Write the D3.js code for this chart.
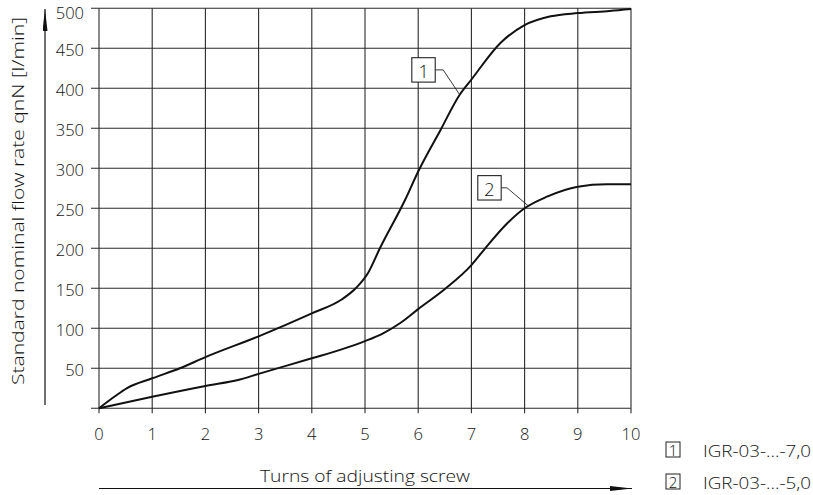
<!DOCTYPE html>
<html>
<head>
<meta charset="utf-8">
<script src="https://cdn.jsdelivr.net/npm/d3@7"></script>
<style>
  body { margin: 0; background: #fff; }
  svg text { font-family: "Open Sans", "Noto Sans", sans-serif; font-weight: 300; fill: #111; }
</style>
</head>
<body>
<script>
const turns1 = [0, 0.3, 0.52, 1, 1.52, 2, 3, 4, 4.56, 4.84, 5.06, 5.28, 5.75, 6, 6.42, 6.78, 7, 7.55, 8, 8.49, 9, 9.6, 10];
const flow1 = [0, 15, 25, 37.5, 50, 64, 90, 118.75, 136, 151, 169.5, 200, 260, 296, 348, 392, 411, 457, 479, 490, 494, 496.6, 499];
const turns2 = [0, 1, 2, 2.65, 3, 4, 4.56, 5, 5.34, 5.67, 6, 6.52, 7, 7.26, 7.67, 8, 8.42, 9, 9.54, 10];
const flow2 = [0, 14.5, 28, 36, 43, 62.5, 73.7, 84, 93.7, 107, 124, 150, 179, 200, 231, 250, 264.5, 277, 280, 280];
const xTicks = [0, 1, 2, 3, 4, 5, 6, 7, 8, 9, 10];
const yTicks = [50, 100, 150, 200, 250, 300, 350, 400, 450, 500];
const seriesIds = ["1", "2"];
const seriesNames = ["IGR-03-…-7,0", "IGR-03-…-5,0"];
// callout boxes: box centre, elbow x, point on curve
const callouts = [
    {id: "1", bx: 6.1, by: 423, kx: 6.47, tx: 6.78, ty: 392},
    {id: "2", bx: 7.34, by: 275.6, kx: 7.67, tx: 8.07, ty: 253}
];
const xTitle = "Turns of adjusting screw";
const yTitle = "Standard nominal flow rate qnN [l/min]";

const W = 813, H = 495;
const svg = d3.select("body").append("svg").attr("width", W).attr("height", H);

const x = d3.scaleLinear().domain([0, 10]).range([99, 631]);
const y = d3.scaleLinear().domain([0, 500]).range([408.3, 8.3]);

const defs = svg.append("defs");
defs.append("marker").attr("id", "arrowUp")
    .attr("viewBox", "0 0 5 22").attr("refX", 2.5).attr("refY", 0)
    .attr("markerWidth", 5).attr("markerHeight", 22).attr("markerUnits", "userSpaceOnUse")
    .attr("orient", "0")
    .append("path").attr("d", "M0,22 L2.5,0 L5,22 Z").attr("fill", "#111");
defs.append("marker").attr("id", "arrowRight")
    .attr("viewBox", "0 0 22 5").attr("refX", 22).attr("refY", 2.5)
    .attr("markerWidth", 22).attr("markerHeight", 5).attr("markerUnits", "userSpaceOnUse")
    .attr("orient", "0")
    .append("path").attr("d", "M0,0 L22,2.5 L0,5 Z").attr("fill", "#111");

const grid = svg.append("g").attr("id", "grid").attr("stroke", "#2a2a2a").attr("stroke-width", 1.1);
grid.selectAll(".vline").data(xTicks).join("line").classed("vline", true)
    .attr("x1", d => x(d)).attr("x2", d => x(d))
    .attr("y1", y(500)).attr("y2", y(0) + 5);
grid.selectAll(".hline").data([0].concat(yTicks)).join("line").classed("hline", true)
    .attr("x1", x(0) - 8).attr("x2", x(10))
    .attr("y1", d => y(d)).attr("y2", d => y(d));

svg.append("g").selectAll("text").data(xTicks).join("text")
    .attr("x", d => x(d)).attr("y", 440)
    .attr("text-anchor", "middle").attr("font-size", 16.5)
    .text(d => d);

svg.append("g").selectAll("text").data(yTicks).join("text")
    .attr("x", 84).attr("y", d => Math.max(y(d) + 1.5, 12.8))
    .attr("dominant-baseline", "central")
    .attr("text-anchor", "end").attr("font-size", 16.5)
    .text(d => d);

// axis arrows
svg.append("line").attr("x1", 45).attr("x2", 45).attr("y1", 405).attr("y2", 9)
    .attr("stroke", "#111").attr("stroke-width", 1.2).attr("marker-end", "url(#arrowUp)");
svg.append("line").attr("x1", x(0)).attr("x2", 632).attr("y1", 488.5).attr("y2", 488.5)
    .attr("stroke", "#111").attr("stroke-width", 1.2).attr("marker-end", "url(#arrowRight)");

svg.append("text").attr("x", 260).attr("y", 481.5).attr("font-size", 16.5)
    .attr("textLength", 210).attr("lengthAdjust", "spacingAndGlyphs").text(xTitle);
svg.append("text").attr("transform", "translate(24,385) rotate(-90)").attr("font-size", 16.5)
    .attr("textLength", 368).attr("lengthAdjust", "spacingAndGlyphs").text(yTitle);

const line = d3.line().x(d => x(d[0])).y(d => y(d[1])).curve(d3.curveMonotoneX);
const curves = [d3.zip(turns1, flow1), d3.zip(turns2, flow2)];
svg.append("g").attr("id", "curves").selectAll("path").data(curves).join("path")
    .attr("d", line).attr("fill", "none").attr("stroke", "#111").attr("stroke-width", 2)
    .attr("stroke-linejoin", "round");

// callouts
const co = svg.append("g").attr("id", "callouts").selectAll("g").data(callouts).join("g");
co.append("polyline")
    .attr("points", d => [[x(d.bx) + 11.7, y(d.by)], [x(d.kx), y(d.by)], [x(d.tx), y(d.ty)]].join(" "))
    .attr("fill", "none").attr("stroke", "#222").attr("stroke-width", 0.9);
co.append("rect")
    .attr("x", d => x(d.bx) - 11.7).attr("y", d => y(d.by) - 12.2)
    .attr("width", 23.4).attr("height", 24.4)
    .attr("fill", "#fff").attr("stroke", "#222").attr("stroke-width", 1.1);
co.append("text")
    .attr("x", d => x(d.bx)).attr("y", d => y(d.by) + 1)
    .attr("text-anchor", "middle").attr("dominant-baseline", "central")
    .attr("font-size", 18).text(d => d.id);

// legend
const legend = svg.append("g").attr("id", "legend").selectAll("g").data(seriesIds).join("g")
    .attr("transform", (d, i) => `translate(666,${442 + i * 32})`);
legend.append("rect").attr("width", 14).attr("height", 15)
    .attr("fill", "none").attr("stroke", "#222").attr("stroke-width", 1);
legend.append("text").attr("x", 7).attr("y", 8).attr("text-anchor", "middle")
    .attr("dominant-baseline", "central").attr("font-size", 15).text(d => d);
legend.append("text").attr("x", 37).attr("y", 8).attr("dominant-baseline", "central")
    .attr("font-size", 17).attr("textLength", 108).attr("lengthAdjust", "spacingAndGlyphs")
    .text((d, i) => seriesNames[i]);
</script>
</body>
</html>
